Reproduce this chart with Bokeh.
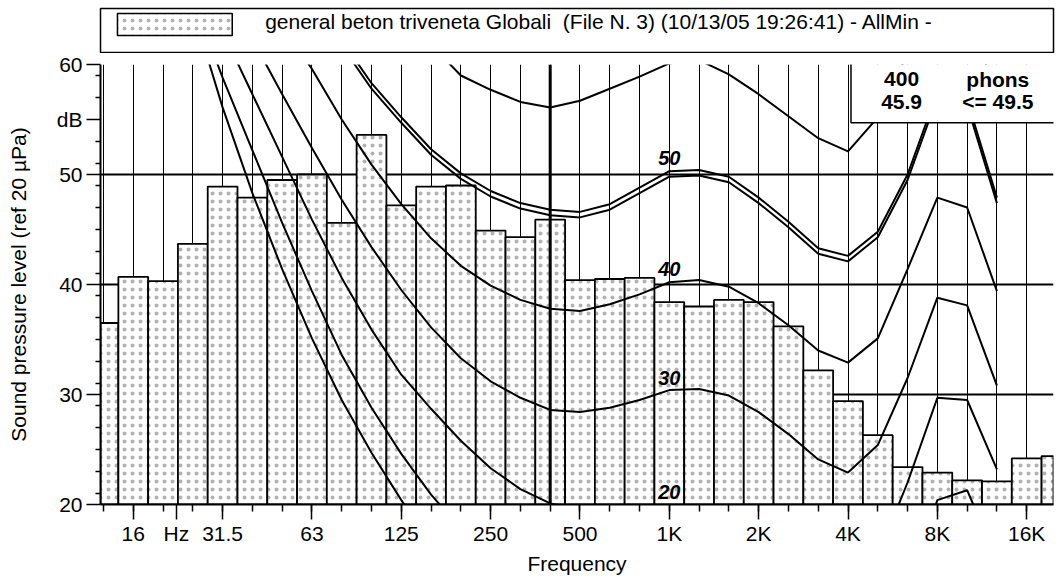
from bokeh.plotting import figure
from bokeh.models import FixedTicker, Span, BoxAnnotation, Label, Range1d
from bokeh.layouts import column
from bokeh.embed import file_html
from bokeh.resources import INLINE
from bokeh.core.properties import value

FONT = "Liberation Sans"

# 1/3-octave bands (index 0 = 12.5 Hz ... 32 = 20 kHz)
bands = ["12.5", "16", "20", "25", "31.5", "40", "50", "63", "80", "100", "125", "160",
         "200", "250", "315", "400", "500", "630", "800", "1K", "1.25K", "1.6K", "2K",
         "2.5K", "3.15K", "4K", "5K", "6.3K", "8K", "10K", "12.5K", "16K", "20K"]
spl = [36.5, 40.7, 40.3, 43.7, 48.9, 47.9, 49.5, 50.0, 45.6, 53.6, 47.2, 48.9, 49.0,
       44.9, 44.3, 45.9, 40.4, 40.5, 40.6, 38.4, 38.0, 38.6, 38.4, 36.2, 32.2, 29.4,
       26.3, 23.4, 22.9, 22.2, 22.1, 24.2, 24.4]

# equal-loudness contours, values at bands 12.5 Hz ... 12.5 kHz
c_0 = [88, 82, 74, 65.0, 56.1, 48.3, 41.4, 35.1, 29.5, 24.7, 20.4, 16.5, 13.2, 10.5, 8.0,
       6.0, 4.5, 3.5, 3.0, 3.5, 4.0, 3.0, 0.0, -2.0, -4.0, -4.0, -1.0, 5.0, 11.0, 12.0, 8.0]
c_10 = [90, 84, 76, 66, 58.8, 52.2, 45.6, 39.4, 33.6, 28.8, 24.6, 20.9, 17.8, 15.3, 13.3,
        11.8, 10.6, 10.0, 9.8, 10.3, 10.5, 9.8, 8.0, 6.0, 3.8, 3.0, 5.5, 12.5, 20.4, 21.3, 15.0]
c_20 = [92, 86, 78, 70, 63, 57.3, 51.6, 45.9, 40.6, 35.9, 31.8, 28.7, 25.8, 23.3, 21.4,
        20.1, 19.5, 19.3, 19.5, 19.8, 19.9, 19.4, 18.2, 16.2, 13.9, 12.9, 15.3, 22.0, 29.7, 29.5, 23.2]
c_30 = [95, 89, 82, 74, 67.5, 62.3, 57.3, 52.4, 47.7, 43.4, 39.5, 36.1, 33.3, 31.2, 29.7,
        28.6, 28.4, 28.8, 29.5, 30.4, 30.5, 29.9, 28.4, 26.4, 24.1, 22.9, 25.4, 31.5, 38.8, 38.1, 30.8]
c_40 = [98, 93, 86, 79, 73, 67.5, 63.5, 59.6, 55.0, 50.9, 47.3, 44.2, 41.7, 39.9, 38.6,
        37.8, 37.6, 38.2, 39.1, 40.2, 40.4, 39.8, 38.3, 36.3, 34.0, 32.9, 35.1, 41.4, 47.9, 47.0, 39.4]
c_50 = [100, 95, 89, 83, 78, 73, 69, 65.5, 62.2, 58.3, 55.2, 52.3, 50.1, 48.5, 47.4,
        46.8, 46.6, 47.3, 48.8, 50.3, 50.4, 49.8, 47.9, 45.7, 43.3, 42.6, 44.8, 50.0, 57.5, 56.8, 47.9]
c_49_5 = [99.5, 94.5, 88.5, 82.5, 77.5, 72.5, 68.5, 65.0, 61.7, 57.8, 54.7, 51.8, 49.6, 48.0, 46.9,
          46.3, 46.1, 46.8, 48.3, 49.8, 49.9, 49.3, 47.4, 45.2, 42.8, 42.1, 44.3, 49.5, 57.0, 56.3, 47.4]
c_60 = [105, 100, 95, 90, 86, 82, 78, 75, 72, 69, 65.5, 61.8, 59.0, 57.7, 56.6,
        56.1, 56.7, 57.8, 58.9, 60.1, 60.4, 59.1, 57.3, 55.3, 53.3, 52.1, 55.2, 61.0, 67.0, 66.0, 56.5]
contours = [c_0, c_10, c_20, c_30, c_40, c_50, c_49_5, c_60]
contour_labels = ["50", "40", "30", "20"]
contour_label_y = [51.5, 41.4, 31.5, 21.1]

x_tick_bands = ["16", "31.5", "63", "125", "250", "500", "1K", "2K", "4K", "8K", "16K"]
y_ticks = [20, 30, 40, 50, 60]
cursor_freq = "400"
cursor_level = "45.9"
loudness = "<= 49.5"
legend_text = "general beton triveneta Globali \u00a0(File N. 3) (10/13/05 19:26:41) - AllMin -"

idx = list(range(len(bands)))
cidx = list(range(len(c_0)))
tick_idx = [bands.index(b) for b in x_tick_bands]

HATCH = dict(hatch_pattern="dot", hatch_scale=8, hatch_color="#666666",
             hatch_alpha=0.5, hatch_weight=1)

# ---------------- header (legend box) ----------------
hdr = figure(width=1060, height=53, x_range=Range1d(0, 955), y_range=Range1d(0, 44),
             toolbar_location=None, output_backend="svg",
             x_axis_location=None, y_axis_location=None,
             min_border_left=98, min_border_right=7, min_border_top=8, min_border_bottom=1)
hdr.grid.visible = False
hdr.outline_line_color = "black"
hdr.outline_line_width = 1.5
hdr.quad(left=[17], right=[132], top=[39], bottom=[17], fill_color="white",
         line_color="black", line_width=1.5, **HATCH)
hdr.text(x=[165], y=[31], text=[legend_text], text_font=value(FONT), text_font_size="21px",
         text_baseline="middle", text_align="left", text_color="black")

# ---------------- main plot ----------------
p = figure(width=1060, height=524, x_range=Range1d(-0.1, 31.9), y_range=Range1d(20, 60),
           toolbar_location=None, output_backend="svg",
           min_border_left=100, min_border_right=0, min_border_top=11, min_border_bottom=69)
p.outline_line_color = None
p.background_fill_color = "white"

p.xgrid.ticker = FixedTicker(ticks=idx)
p.xgrid.grid_line_color = "black"
p.xgrid.grid_line_width = 1
p.ygrid.ticker = FixedTicker(ticks=[30, 40, 50, 60])
p.ygrid.grid_line_color = "black"
p.ygrid.grid_line_width = 2

p.vbar(x=idx, top=spl, bottom=0, width=1.0, fill_color="white", line_color="black",
       line_width=1.8, **HATCH)

for c in contours:
    p.line(x=cidx, y=c, line_color="black", line_width=2)

p.text(x=[bands.index("1K")] * 4, y=contour_label_y, text=contour_labels,
       text_font=value(FONT), text_font_size="20px", text_font_style="bold italic",
       text_align="center", text_baseline="middle", text_color="black")

p.add_layout(Span(location=bands.index(cursor_freq), dimension="height",
                  line_color="black", line_width=3))
p.add_layout(BoxAnnotation(left=25.1, right=33, bottom=54.7, top=61, fill_color="white",
                           fill_alpha=1, line_color="black", line_width=1.5, line_alpha=1))
for txt, xx, yy in [(cursor_freq, 26.8, 58.65), ("phons", 30.03, 58.65),
                    (cursor_level, 26.8, 56.6), (loudness, 30.03, 56.6)]:
    p.add_layout(Label(x=xx, y=yy, text=txt, text_font=FONT, text_font_size="21px",
                       text_font_style="bold", text_align="center", text_baseline="middle",
                       text_color="black"))

# axes: unit labels "Hz" and "dB" sit among the tick labels
hz_pos = 2.45
db_pos = 55
p.xaxis.ticker = FixedTicker(ticks=tick_idx[:1] + [hz_pos] + tick_idx[1:], minor_ticks=idx)
x_over = {i: l for i, l in zip(tick_idx, x_tick_bands)}
x_over[hz_pos] = "Hz"
p.xaxis.major_label_overrides = x_over
p.yaxis.ticker = FixedTicker(ticks=y_ticks + [db_pos],
                             minor_ticks=[v for v in range(21, 60, 2) if v != db_pos])
p.yaxis.major_label_overrides = {db_pos: "dB"}
for ax in (p.xaxis[0], p.yaxis[0]):
    ax.axis_line_color = "black"
    ax.axis_line_width = 2
    ax.major_tick_line_color = "black"
    ax.minor_tick_line_color = "black"
    ax.major_tick_line_width = 1.5
    ax.minor_tick_line_width = 1.5
    ax.major_tick_in = 0
    ax.minor_tick_in = 0
    ax.major_label_text_font = FONT
    ax.major_label_text_font_size = "21px"
    ax.major_label_text_color = "black"
    ax.axis_label_text_font = FONT
    ax.axis_label_text_font_size = "21px"
    ax.axis_label_text_font_style = "normal"
    ax.axis_label_text_color = "black"
p.xaxis.major_tick_out = 15
p.xaxis.minor_tick_out = 7
p.xaxis.major_label_standoff = 2
p.xaxis.axis_label = "Frequency"
p.xaxis.axis_label_standoff = 4
p.yaxis.major_tick_out = 14
p.yaxis.minor_tick_out = 5
p.yaxis.major_label_standoff = 4
p.yaxis.axis_label = "Sound pressure level (ref 20 µPa)"
p.yaxis.axis_label_standoff = 24

layout = column(hdr, p, spacing=0)
open("out.html", "w").write(file_html(layout, INLINE))
